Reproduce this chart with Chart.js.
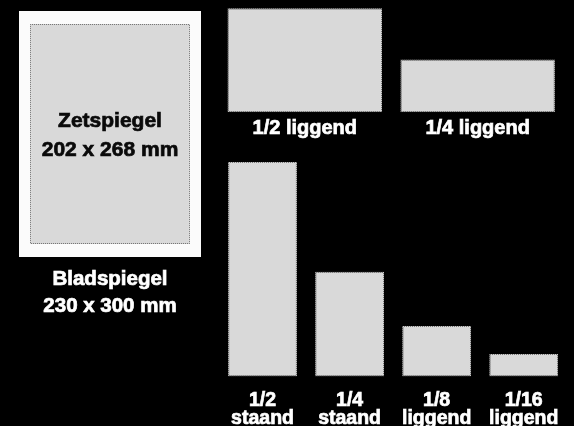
<!DOCTYPE html>
<html>
<head>
<meta charset="utf-8">
<script src="https://cdn.jsdelivr.net/npm/chart.js@4.4.0/dist/chart.umd.min.js"></script>
<style>
  html, body { margin: 0; padding: 0; background: #000; }
  #wrap { position: relative; width: 574px; height: 426px; overflow: hidden; background: #000; }
  #wrap canvas { position: absolute; left: 0; top: 0; }
</style>
</head>
<body>
<div id="wrap">
  <canvas id="pageChart" width="574" height="426"></canvas>
  <canvas id="topChart" width="574" height="426"></canvas>
  <canvas id="bottomChart" width="574" height="426"></canvas>
</div>
<script>
// ---- data (mm) ----
const pageLabels = [['Bladspiegel', '230 x 300 mm']];
const pageWidths = [230];
const pageHeights = [300];
const typeAreaText = ['Zetspiegel', '202 x 268 mm'];
const typeAreaWidths = [202];
const typeAreaHeights = [268];

const landscapeLabels = ['1/2 liggend', '1/4 liggend'];
const landscapeHeights = [130, 66];

const bottomLabels = [['1/2', 'staand'], ['1/4', 'staand'], ['1/8', 'liggend'], ['1/16', 'liggend']];
const bottomHeights = [268, 131, 63, 28];

// ---- styles ----
const FONT = "'Liberation Sans', Arial, Helvetica, sans-serif";
const FILL = '#d9d9d9';

function dottedPattern(canvasId) {
  const c = document.createElement('canvas');
  c.width = 2; c.height = 2;
  const g = c.getContext('2d');
  g.fillStyle = '#cfcfcf'; g.fillRect(0, 0, 2, 2);
  g.fillStyle = '#777777'; g.fillRect(0, 0, 1, 1); g.fillRect(1, 1, 1, 1);
  return document.getElementById(canvasId).getContext('2d').createPattern(c, 'repeat');
}

function xAxis(size, lineHeight, pad, height) {
  return {
    type: 'category', offset: true,
    grid: { display: false, drawTicks: false },
    border: { display: false },
    ticks: {
      color: '#ffffff', padding: pad, maxRotation: 0, minRotation: 0, autoSkip: false,
      textStrokeColor: '#ffffff', textStrokeWidth: 0.7,
      font: { family: FONT, weight: 'bold', size: size, lineHeight: lineHeight }
    },
    afterFit: (s) => { s.height = height; }
  };
}
function yAxis(max) {
  return { type: 'linear', display: false, min: 0, max: max };
}
const common = {
  responsive: false, animation: false, events: [],
  plugins: { legend: { display: false }, tooltip: { enabled: false } }
};

// ---- page (Bladspiegel / Zetspiegel) ----
const typeAreaLabel = {
  id: 'typeAreaLabel',
  afterDatasetsDraw(chart) {
    const el = chart.getDatasetMeta(0).data[0];
    const cx = el.x, cy = (el.y + el.base) / 2 + 1.5;
    const ctx = chart.ctx;
    ctx.save();
    ctx.fillStyle = '#0a0a0a';
    ctx.strokeStyle = '#0a0a0a';
    ctx.lineWidth = 0.7;
    ctx.font = "bold 21px " + FONT;
    ctx.textAlign = 'center';
    ctx.textBaseline = 'middle';
    const gap = 29.5;
    typeAreaText.forEach((t, i) => {
      const y = cy + (i - (typeAreaText.length - 1) / 2) * gap;
      ctx.strokeText(t, cx, y);
      ctx.fillText(t, cx, y);
    });
    ctx.restore();
  }
};
new Chart(document.getElementById('pageChart'), {
  type: 'bar',
  data: {
    labels: pageLabels,
    datasets: [
      {
        label: 'Zetspiegel',
        data: typeAreaHeights.map((h, i) => [(pageHeights[i] - h) / 2, (pageHeights[i] + h) / 2]),
        backgroundColor: FILL, borderColor: dottedPattern('pageChart'), borderWidth: 1,
        borderSkipped: false, inflateAmount: 0, grouped: false, order: 0,
        barPercentage: typeAreaWidths[0] / pageWidths[0], categoryPercentage: 1
      },
      {
        label: 'Bladspiegel',
        data: pageHeights,
        backgroundColor: '#fbfbfb', borderWidth: 0, inflateAmount: 0,
        grouped: false, order: 1, barPercentage: 1, categoryPercentage: 1
      }
    ]
  },
  options: Object.assign({}, common, {
    layout: { padding: { left: 19, right: 373, top: 11, bottom: 426 - 257 - 60 } },
    scales: { x: xAxis(20.5, 1.3, 9, 60), y: yAxis(300) }
  }),
  plugins: [typeAreaLabel]
});

// ---- top row (liggend) ----
new Chart(document.getElementById('topChart'), {
  type: 'bar',
  data: {
    labels: landscapeLabels,
    datasets: [{
      data: landscapeHeights,
      backgroundColor: FILL, borderColor: dottedPattern('topChart'), borderWidth: 1,
      borderSkipped: false, inflateAmount: 0,
      barPercentage: 0.8936, categoryPercentage: 1
    }]
  },
  options: Object.assign({}, common, {
    layout: { padding: { left: 218.3, right: 574 - 564.1, top: 0.3, bottom: 426 - 112.3 - 40 } },
    scales: { x: xAxis(20, 1.2, 4, 40), y: yAxis(140) }
  })
});

// ---- bottom row ----
new Chart(document.getElementById('bottomChart'), {
  type: 'bar',
  data: {
    labels: bottomLabels,
    datasets: [{
      data: bottomHeights,
      backgroundColor: FILL, borderColor: dottedPattern('bottomChart'), borderWidth: 1,
      borderSkipped: false, inflateAmount: 0,
      barPercentage: 0.791, categoryPercentage: 1
    }]
  },
  options: Object.assign({}, common, {
    layout: { padding: { left: 219, right: 1, top: 136.5, bottom: 0 } },
    scales: { x: xAxis(19.5, 0.92, 15.5, 49.5), y: yAxis(300) }
  })
});
</script>
</body>
</html>
